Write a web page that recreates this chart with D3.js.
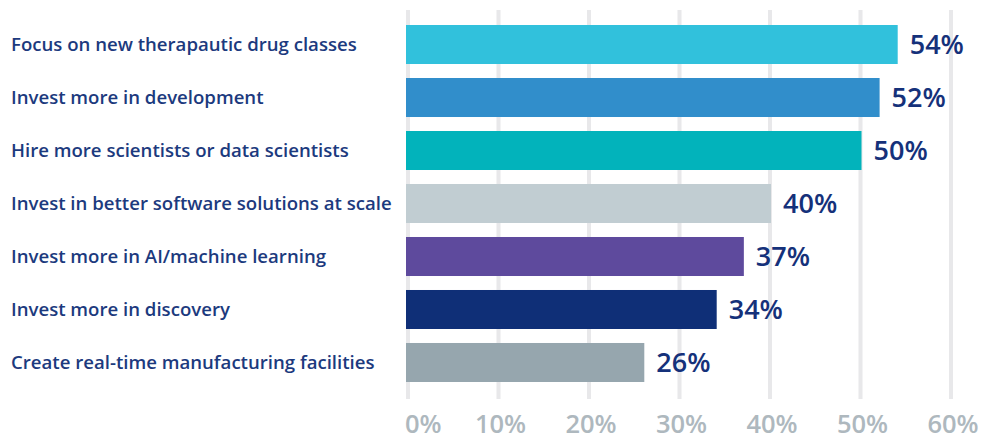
<!DOCTYPE html>
<html>
<head>
<meta charset="utf-8">
<script src="https://cdn.jsdelivr.net/npm/d3@7"></script>
<style>
  html, body { margin: 0; padding: 0; background: #fff; }
  svg { display: block; font-family: "Open Sans", sans-serif; }
</style>
</head>
<body>
<div id="chart"></div>
<script>
(function () {
  'use strict';

  var WIDTH = 990;
  var HEIGHT = 441;

  var categories = [
    'Focus on new therapautic drug classes',
    'Invest more in development',
    'Hire more scientists or data scientists',
    'Invest in better software solutions at scale',
    'Invest more in AI/machine learning',
    'Invest more in discovery',
    'Create real-time manufacturing facilities'
  ];
  var values = [54, 52, 50, 40, 37, 34, 26];
  var colors = ['#31c1dc', '#318ecb', '#02b3bb', '#c1cdd2', '#5e4a9d', '#0f2f77', '#96a6ae'];
  var ticks = [0, 10, 20, 30, 40, 50, 60];

  var data = categories.map(function (c, i) {
    return { name: c, value: values[i], color: colors[i] };
  });

  var svg = d3.select('#chart').append('svg')
    .attr('width', WIDTH)
    .attr('height', HEIGHT);

  var x = d3.scaleLinear().domain([0, 60]).range([408, 951]);
  var y = d3.scaleBand()
    .domain(categories)
    .range([25, 382])
    .paddingInner(0.264)
    .paddingOuter(0);

  // grid lines go behind the bars
  svg.append('g').selectAll('line')
    .data(ticks)
    .enter().append('line')
    .attr('x1', function (d) { return x(d); })
    .attr('x2', function (d) { return x(d); })
    .attr('y1', 10)
    .attr('y2', 399)
    .attr('stroke', '#e8e8ea')
    .attr('stroke-width', 4);

  // tick labels; the first one hugs the left edge
  svg.append('g').selectAll('text')
    .data(ticks)
    .enter().append('text')
    .attr('x', function (d) { return d === 0 ? x(d) - 3 : x(d) + 2; })
    .attr('y', 433)
    .attr('text-anchor', function (d) { return d === 0 ? 'start' : 'middle'; })
    .attr('fill', '#aeb8be')
    .attr('font-size', 25.5)
    .attr('font-weight', 600)
    .text(function (d) { return d + '%'; });

  var rows = svg.append('g').selectAll('g')
    .data(data)
    .enter().append('g');

  rows.append('rect')
    .attr('x', x(0) - 2)
    .attr('y', function (d) { return y(d.name); })
    .attr('width', function (d) { return x(d.value) - x(0) + 3; })
    .attr('height', y.bandwidth())
    .attr('fill', function (d) { return d.color; });

  rows.append('text')
    .attr('x', 11)
    .attr('y', function (d) { return y(d.name) + y.bandwidth() / 2; })
    .attr('dy', '0.36em')
    .attr('fill', '#1c3a7e')
    .attr('font-size', 18.6)
    .attr('font-weight', 600)
    .text(function (d) { return d.name; });

  rows.append('text')
    .attr('x', function (d) { return x(d.value) + 13; })
    .attr('y', function (d) { return y(d.name) + y.bandwidth() / 2; })
    .attr('dy', '0.36em')
    .attr('fill', '#15317a')
    .attr('font-size', 27)
    .attr('font-weight', 600)
    .text(function (d) { return d.value + '%'; });
})();
</script>
</body>
</html>
